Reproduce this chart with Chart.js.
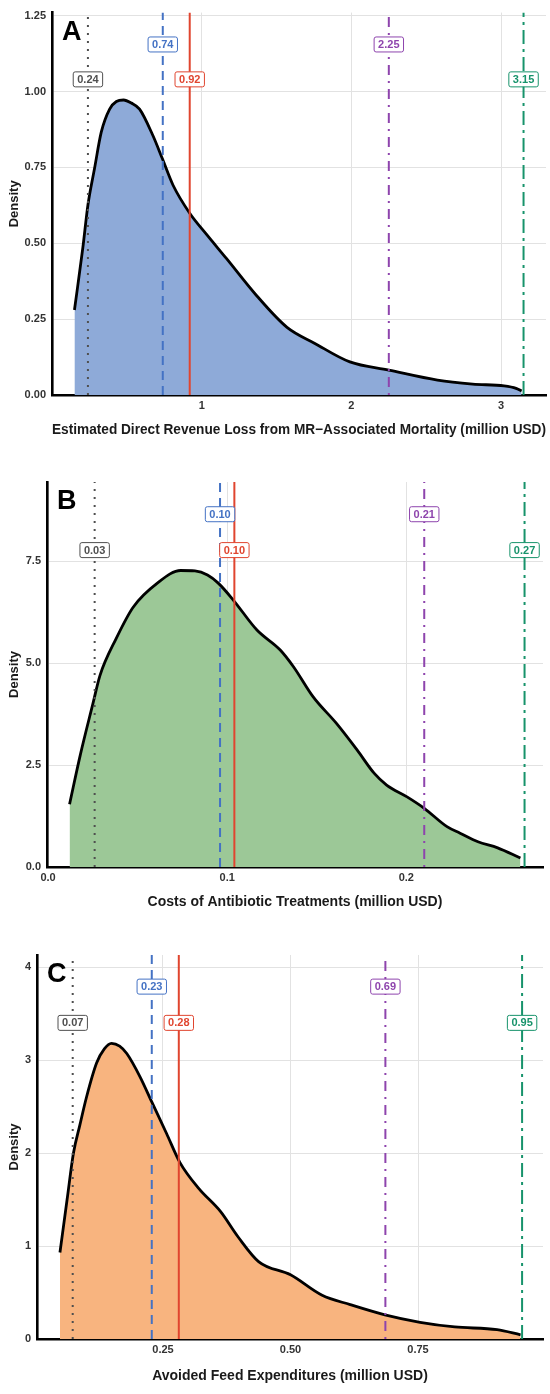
<!DOCTYPE html>
<html>
<head>
<meta charset="utf-8">
<script src="https://cdn.jsdelivr.net/npm/chart.js@4.4.1/dist/chart.umd.min.js"></script>
<style>
  html, body { margin: 0; padding: 0; background: #fff; }
  #page { position: relative; width: 550px; height: 1394px; overflow: hidden; }
  .panel { position: absolute; left: 0; width: 550px; }
</style>
</head>
<body>
<div id="page">
  <div class="panel" style="top:0px"><canvas id="chartA" width="550" height="460"></canvas></div>
  <div class="panel" style="top:465px"><canvas id="chartB" width="550" height="460"></canvas></div>
  <div class="panel" style="top:935px"><canvas id="chartC" width="550" height="459"></canvas></div>
</div>
<script>
// Panel A - direct revenue loss (million USD)
const curveAx = [0.150, 0.206, 0.240, 0.284, 0.329, 0.385, 0.430, 0.478, 0.530, 0.585, 0.674, 0.737,
                 0.808, 0.920, 1.031, 1.165, 1.366, 1.570, 1.756, 1.990, 2.250, 2.575, 2.810, 3.020, 3.100, 3.137];
const curveAy = [0.280, 0.485, 0.626, 0.746, 0.866, 0.942, 0.967, 0.972, 0.962, 0.942, 0.855, 0.779,
                 0.692, 0.599, 0.530, 0.450, 0.328, 0.223, 0.170, 0.109, 0.082, 0.049, 0.036, 0.030, 0.022, 0.013];
const statsA = [0.24, 0.74, 0.92, 2.25, 3.15];
const labelLevelsA = [1.04, 1.155, 1.04, 1.155, 1.04];
const xTicksA = [1, 2, 3];
const xTickLabelsA = ['1', '2', '3'];
const yTicksA = [0, 0.25, 0.5, 0.75, 1, 1.25];
const yTickLabelsA = ['0.00', '0.25', '0.50', '0.75', '1.00', '1.25'];

// Panel B - antibiotic treatment costs
const curveBx = [0.012, 0.018, 0.025, 0.029, 0.038, 0.0475, 0.061, 0.074, 0.082, 0.089, 0.095, 0.1035, 0.1166,
                 0.1296, 0.137, 0.148, 0.161, 0.1725, 0.182, 0.189, 0.2004, 0.210, 0.2227, 0.230, 0.240, 0.251, 0.2637];
const curveBy = [1.54, 2.75, 4.00, 4.70, 5.60, 6.37, 6.96, 7.27, 7.26, 7.16, 6.96, 6.54, 5.81,
                 5.32, 4.91, 4.17, 3.52, 2.87, 2.30, 2.01, 1.72, 1.44, 0.99, 0.83, 0.62, 0.47, 0.22];
const statsB = [0.026, 0.096, 0.104, 0.210, 0.266];
const labelLevelsB = [7.77, 8.65, 7.77, 8.65, 7.77];
const xTicksB = [0, 0.1, 0.2];
const xTickLabelsB = ['0.0', '0.1', '0.2'];
const yTicksB = [0, 2.5, 5, 7.5];
const yTickLabelsB = ['0.0', '2.5', '5.0', '7.5'];

// Panel C - avoided feed expenditures
const curveCx = [0.048, 0.062, 0.0745, 0.087, 0.100, 0.120, 0.135, 0.149, 0.165, 0.179, 0.205, 0.228, 0.257,
                 0.283, 0.320, 0.363, 0.397, 0.438, 0.500, 0.562, 0.617, 0.685, 0.754, 0.822, 0.905, 0.951];
const curveCy = [0.93, 1.50, 2.00, 2.30, 2.60, 2.97, 3.12, 3.18, 3.15, 3.07, 2.82, 2.55, 2.21,
                 1.90, 1.62, 1.37, 1.10, 0.83, 0.69, 0.47, 0.37, 0.26, 0.18, 0.13, 0.10, 0.045];
const statsC = [0.073, 0.228, 0.281, 0.686, 0.954];
const labelLevelsC = [3.40, 3.79, 3.40, 3.79, 3.40];
const xTicksC = [0.25, 0.5, 0.75];
const xTickLabelsC = ['0.25', '0.50', '0.75'];
const yTicksC = [0, 1, 2, 3, 4];
const yTickLabelsC = ['0', '1', '2', '3', '4'];

// line styles for the five summary lines (dotted, dashed, solid, dotdash, twodash)
const statStyles = [
  { color: '#4f4f4f', dash: [2, 6] },
  { color: '#4472c4', dash: [9, 6] },
  { color: '#e0452f', dash: [] },
  { color: '#8e44ad', dash: [2, 6, 10, 6] },
  { color: '#17936b', dash: [14, 5, 3, 5] }
];

const FONT = "'Liberation Sans', Arial, Helvetica, sans-serif";

const statLabelPlugin = {
  id: 'statLabels',
  afterDatasetsDraw(chart, args, opts) {
    const ctx = chart.ctx;
    const xs = chart.scales.x, ys = chart.scales.y;
    ctx.save();
    ctx.font = 'bold 11px ' + FONT;
    ctx.textAlign = 'center';
    ctx.textBaseline = 'middle';
    opts.values.forEach((v, i) => {
      const px = xs.getPixelForValue(v);
      const py = ys.getPixelForValue(opts.levels[i]);
      const txt = v.toFixed(2);
      const w = ctx.measureText(txt).width + 8;
      const h = 15;
      ctx.beginPath();
      ctx.roundRect(px - w / 2, py - h / 2, w, h, 2);
      ctx.fillStyle = '#fff';
      ctx.fill();
      ctx.lineWidth = 1;
      ctx.strokeStyle = statStyles[i].color;
      ctx.stroke();
      ctx.fillStyle = statStyles[i].color;
      ctx.fillText(txt, px, py + 0.5);
    });
    // panel letter
    ctx.font = 'bold 27px ' + FONT;
    ctx.textAlign = 'left';
    ctx.textBaseline = 'alphabetic';
    ctx.fillStyle = '#000';
    ctx.fillText(opts.letter, chart.chartArea.left + 10, chart.chartArea.top + 27);
    ctx.restore();
  }
};

function makePanel(id, p) {
  const datasets = p.stats.map((v, i) => ({
    data: [{ x: v, y: 0 }, { x: v, y: p.yMax }],
    borderColor: statStyles[i].color,
    borderDash: statStyles[i].dash,
    borderWidth: 2,
    pointRadius: 0,
    fill: false,
    order: 1
  }));
  datasets.push({
    data: p.cx.map((x, i) => ({ x: x, y: p.cy[i] })),
    borderColor: '#000',
    borderWidth: 2.8,
    backgroundColor: p.fill,
    fill: 'origin',
    pointRadius: 0,
    cubicInterpolationMode: 'monotone',
    order: 10
  });

  new Chart(document.getElementById(id), {
    type: 'line',
    data: { datasets: datasets },
    options: {
      responsive: false,
      animation: false,
      layout: { padding: { top: p.top, right: p.right, left: 0, bottom: 0 } },
      plugins: {
        legend: { display: false },
        tooltip: { enabled: false },
        statLabels: { values: p.stats, levels: p.levels, letter: p.letter }
      },
      scales: {
        x: {
          type: 'linear',
          min: p.xMin,
          max: p.xMax,
          afterBuildTicks: s => { s.ticks = p.xTicks.map(v => ({ value: v })); },
          afterFit: s => { s.height = p.xBox; },
          ticks: {
            callback: (v) => p.xTickLabels[p.xTicks.indexOf(v)],
            font: { family: FONT, size: 11, weight: 'bold' },
            color: '#333',
            padding: 4,
            maxRotation: 0
          },
          grid: { color: '#e2e2e2', lineWidth: 1, drawTicks: false },
          border: { display: true, color: '#000', width: 2.6 },
          title: {
            display: true,
            text: p.xTitle,
            font: { family: FONT, size: 14, weight: 'bold' },
            color: '#1a1a1a',
            padding: { top: 0, bottom: p.titlePad }
          }
        },
        y: {
          type: 'linear',
          min: 0,
          max: p.yMax,
          afterBuildTicks: s => { s.ticks = p.yTicks.map(v => ({ value: v })); },
          afterFit: s => { s.width = p.left; },
          ticks: {
            callback: (v) => p.yTickLabels[p.yTicks.indexOf(v)],
            font: { family: FONT, size: 11, weight: 'bold' },
            color: '#333',
            padding: 6
          },
          grid: { color: '#e2e2e2', lineWidth: 1, drawTicks: false },
          border: { display: true, color: '#000', width: 2.6 },
          title: {
            display: true,
            text: 'Density',
            font: { family: FONT, size: 13, weight: 'bold' },
            color: '#1a1a1a',
            padding: { top: 6.2, bottom: 0 }
          }
        }
      }
    },
    plugins: [statLabelPlugin]
  });
}

makePanel('chartA', {
  cx: curveAx, cy: curveAy, stats: statsA, levels: labelLevelsA,
  xTicks: xTicksA, xTickLabels: xTickLabelsA, yTicks: yTicksA, yTickLabels: yTickLabelsA,
  xMin: 0, xMax: 3.3, yMax: 1.26, fill: '#8eaad8', letter: 'A',
  xTitle: 'Estimated Direct Revenue Loss from MR\u2212Associated Mortality (million USD)',
  top: 10, right: 4, left: 52, xBox: 65, titlePad: 21.6
});

makePanel('chartB', {
  cx: curveBx, cy: curveBy, stats: statsB, levels: labelLevelsB,
  xTicks: xTicksB, xTickLabels: xTickLabelsB, yTicks: yTicksB, yTickLabels: yTickLabelsB,
  xMin: -0.0006, xMax: 0.2763, yMax: 9.44, fill: '#9cc897', letter: 'B',
  xTitle: 'Costs of Antibiotic Treatments (million USD)',
  top: 17, right: 7, left: 47, xBox: 58, titlePad: 14.6
});

makePanel('chartC', {
  cx: curveCx, cy: curveCy, stats: statsC, levels: labelLevelsC,
  xTicks: xTicksC, xTickLabels: xTickLabelsC, yTicks: yTicksC, yTickLabels: yTickLabelsC,
  xMin: 0.003, xMax: 0.995, yMax: 4.13, fill: '#f8b47f', letter: 'C',
  xTitle: 'Avoided Feed Expenditures (million USD)',
  top: 20, right: 7, left: 37, xBox: 55, titlePad: 9.6
});
</script>
</body>
</html>
